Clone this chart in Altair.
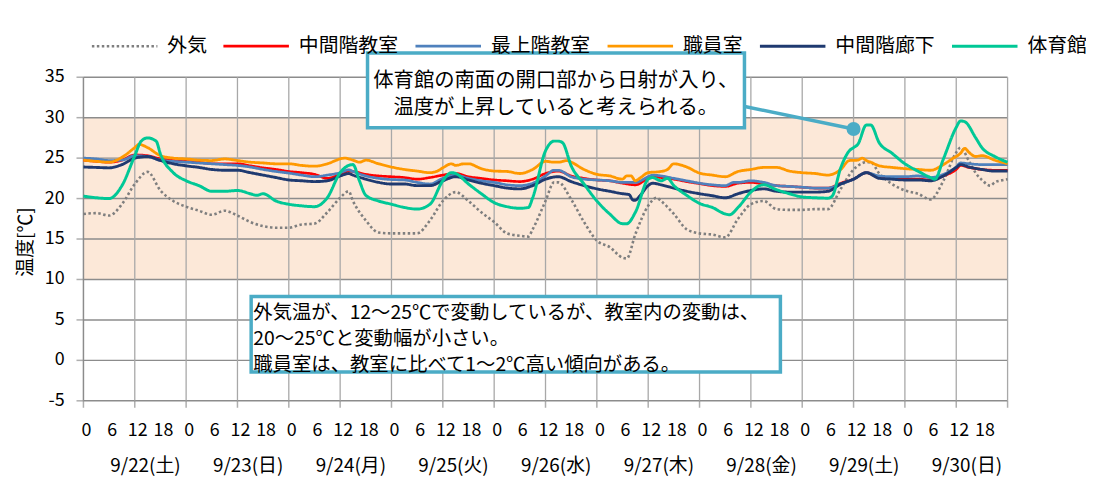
import altair as alt
import pandas as pd

FONT = "Noto Sans CJK JP"

series_names = ["外気", "中間階教室", "最上階教室", "職員室", "中間階廊下", "体育館"]
series_colors = ["#7f7f7f", "#ff0000", "#4f81bd", "#ff9900", "#1f3a70", "#00c896"]
series_dash = [[2.5, 2.5], [1, 0], [1, 0], [1, 0], [1, 0], [1, 0]]
series_width = [2.6, 3, 3, 3, 3, 3]

# hours from 9/22 0:00
out_h = [0, 3, 6, 9, 12, 15, 18, 21, 24, 27, 30, 33, 36, 39, 42, 45, 48, 51, 54, 57, 60, 62, 63, 66, 69, 72,
         75, 78, 81, 84, 87, 90, 93, 96, 99, 102, 104, 105, 108, 110, 111, 114, 117, 120, 123, 126, 127, 129,
         132, 134, 135, 138, 141, 144, 147, 150, 153, 156, 159, 162, 165, 168, 171, 174, 177, 180, 181, 183,
         184, 186, 189, 192, 195, 198, 201, 204, 205, 207, 208.5, 210, 212, 213, 215, 216]
out_t = [18.1, 18.2, 17.9, 19.3, 21.8, 23.3, 21.0, 19.7, 19.0, 18.5, 18.0, 18.5, 17.9, 17.1, 16.6, 16.4, 16.4,
         16.8, 16.9, 18.3, 20.1, 20.9, 19.7, 17.3, 15.8, 15.7,
         15.7, 15.7, 17.3, 19.7, 20.8, 19.7, 18.3, 17.1, 15.7, 15.4, 15.3, 16.2, 19.7, 22.0, 22.0, 19.9, 17.1,
         14.8, 14.0, 12.7, 12.6, 15.6, 19.1, 20.1, 19.7, 18.1, 16.2, 15.7,
         15.55, 15.2, 17.5, 19.3, 19.7, 18.7, 18.6, 18.6, 18.7, 18.7, 21.2, 23.6, 24.05, 24.5, 24.5, 23.1, 21.8,
         21.0, 20.6, 19.9, 22.2, 25.7, 26.3, 24.6, 23.2, 22.3, 21.6, 22.0, 22.3, 22.4]

gym_h = [0, 3, 6, 9, 12, 13.5, 15, 17, 18, 21, 24, 27, 30, 33, 36, 39, 40.5, 42, 45, 48, 51, 54, 57, 60, 62, 63,
         64.5, 66, 69, 72, 75, 78, 81, 84, 86, 87, 90, 93, 96, 99, 102, 104, 105, 108, 110, 111, 112, 114, 117,
         120, 123, 126, 127, 129, 132, 133, 135, 136.5, 138, 141, 144, 147, 150, 151, 153, 156, 158, 159, 162,
         165, 168, 171, 174, 175, 177, 179, 180, 181, 183, 184, 186, 189, 192, 195, 198, 199, 201, 204, 205,
         206, 208.5, 210, 213, 216]
gym_t = [20.3, 20.1, 20.0, 21.6, 25.3, 27.1, 27.5, 27.1, 25.5, 23.2, 22.2, 21.6, 20.9, 20.9, 21.0, 20.6, 20.4,
         20.6, 19.7, 19.3, 19.1, 19.0, 20.1, 23.2, 24.1, 24.2, 22.2, 20.4, 19.7, 19.3, 18.9, 18.7, 19.3, 22.2,
         23.2, 23.1, 21.8, 20.6, 19.5, 19.0, 18.8, 18.9, 20.1, 25.9, 27.1, 27.1, 26.9, 24.05, 21.8, 19.7, 18.1,
         16.9, 16.9, 18.3, 22.4, 22.6, 22.2, 22.5, 21.6, 20.4, 19.4, 18.9, 18.1, 18.0, 18.9, 20.8, 21.6, 21.7,
         21.1, 20.6, 20.2, 20.1, 20.05, 20.3, 23.8, 25.9, 26.3, 26.7, 29.1, 29.1, 26.9, 25.6, 24.3, 23.4, 22.6,
         22.4, 24.9, 28.8, 29.6, 29.5, 27.55, 26.3, 25.2, 24.5]

staff_h = [0, 3, 6, 9, 12, 13, 15, 18, 21, 24, 27, 30, 33, 36, 39, 42, 45, 48, 51, 54, 57, 60, 61, 63, 64.5, 66,
           69, 72, 75, 78, 81, 82.5, 84, 86, 87, 89, 90, 93, 96, 99, 102, 105, 108, 110, 111, 113, 114, 117,
           120, 123, 126, 127, 128, 129, 130, 132, 135, 136.5, 138, 141, 144, 147, 150, 153, 156, 159, 162,
           165, 168, 171, 174, 177, 179, 181, 182, 183, 184, 186, 189, 192, 195, 198, 201, 203, 205, 206, 207,
           208.5, 210, 213, 216]
staff_t = [24.75, 24.6, 24.5, 25.1, 26.3, 26.7, 26.3, 25.3, 25.0, 24.9, 24.75, 24.7, 24.9, 24.7, 24.5, 24.4,
           24.3, 24.3, 24.1, 24.0, 24.3, 24.9, 25.0, 24.75, 24.5, 24.75, 24.3, 23.9, 23.6, 23.4, 23.2, 23.35,
           23.8, 24.3, 24.1, 24.3, 24.3, 23.7, 23.4, 23.35, 23.1, 23.6, 24.6, 24.5, 24.5, 24.7, 24.5, 23.6, 23.0,
           22.8, 22.4, 22.8, 22.8, 22.2, 22.5, 23.2, 23.35, 23.6, 24.3, 23.9, 23.15, 22.9, 22.7, 23.35, 23.6,
           23.85, 23.85, 23.4, 23.2, 23.1, 22.9, 23.6, 24.7, 24.75, 25.0, 24.7, 24.5, 24.05, 23.85, 23.7, 23.6,
           23.5, 24.2, 24.9, 25.6, 26.2, 25.7, 25.2, 25.3, 24.75, 24.3]

mid_h = [0, 3, 6, 9, 12, 15, 18, 21, 24, 27, 30, 33, 36, 39, 42, 45, 48, 51, 54, 57, 60, 62, 63, 66, 69, 72, 75,
         78, 81, 84, 87, 90, 93, 96, 99, 102, 105, 108, 110, 111, 114, 117, 120, 123, 126, 129, 132, 133, 135,
         138, 141, 144, 147, 150, 153, 156, 159, 162, 165, 168, 171, 174, 177, 180, 183, 186, 189, 192, 195,
         198, 201, 204, 205, 207, 210, 213, 216]
mid_t = [24.75, 24.6, 24.5, 24.75, 25.4, 25.3, 24.9, 24.7, 24.6, 24.5, 24.3, 24.3, 24.3, 24.05, 23.8, 23.6,
         23.35, 23.2, 23.0, 22.5, 23.0, 23.4, 23.35, 23.0, 22.8, 22.7, 22.6, 22.4, 22.6, 22.9, 23.1, 22.7, 22.5,
         22.3, 22.2, 22.1, 22.4, 23.1, 23.35, 23.4, 22.8, 22.5, 22.3, 22.2, 21.9, 21.7, 22.5, 22.7, 22.6, 22.4,
         22.1, 21.85, 21.6, 21.5, 21.9, 22.0, 21.8, 21.6, 21.5, 21.4, 21.3, 21.3, 21.9, 22.4, 23.2, 22.6, 22.5,
         22.4, 22.4, 22.3, 22.8, 23.6, 24.1, 23.85, 23.6, 23.5, 23.5]

top_h = [0, 3, 6, 9, 12, 15, 18, 21, 24, 27, 30, 33, 36, 39, 42, 45, 48, 51, 54, 57, 60, 62, 63, 66, 69, 72, 75,
         78, 81, 84, 87, 90, 93, 96, 99, 102, 105, 108, 110, 111, 114, 117, 120, 123, 126, 129, 132, 133, 135,
         138, 141, 144, 147, 150, 152, 153, 156, 159, 162, 165, 168, 171, 174, 177, 180, 183, 186, 189, 192,
         195, 198, 201, 204, 205, 207, 210, 213, 216]
top_t = [25.0, 24.9, 24.7, 24.75, 25.3, 25.2, 24.75, 24.6, 24.5, 24.4, 24.3, 24.2, 24.1, 23.9, 23.6, 23.35,
         23.15, 22.9, 22.7, 22.9, 23.2, 23.55, 23.35, 22.8, 22.5, 22.35, 22.3, 22.0, 21.8, 22.5, 22.9, 22.5,
         22.2, 22.0, 21.7, 21.6, 21.9, 22.8, 23.5, 23.5, 22.7, 22.4, 22.3, 22.2, 22.0, 22.0, 22.7, 22.9, 22.8,
         22.5, 22.2, 21.9, 21.7, 21.6, 22.0, 22.0, 22.2, 22.0, 21.6, 21.5, 21.4, 21.3, 21.3, 21.8, 22.4, 23.2,
         22.8, 22.7, 22.7, 22.8, 22.6, 23.0, 23.9, 24.4, 24.3, 24.2, 24.2, 24.2]

hall_h = [0, 3, 6, 9, 12, 15, 18, 21, 24, 27, 30, 33, 36, 39, 42, 45, 48, 51, 54, 57, 60, 62, 63, 66, 69, 72,
          75, 78, 81, 84, 87, 90, 93, 96, 99, 102, 105, 108, 111, 114, 117, 120, 123, 126, 127.5, 128.5, 129,
          130, 132, 133, 135, 138, 141, 144, 147, 150, 153, 156, 159, 162, 165, 168, 171, 174, 177, 180, 183,
          186, 189, 192, 195, 198, 201, 204, 205, 207, 210, 213, 216]
hall_t = [23.9, 23.85, 23.8, 24.2, 25.0, 25.2, 24.7, 24.3, 24.05, 23.85, 23.6, 23.5, 23.5, 23.2, 22.9, 22.6,
          22.3, 22.2, 22.1, 22.2, 22.8, 23.1, 22.9, 22.4, 22.0, 21.8, 21.8, 21.6, 21.6, 22.2, 22.7, 22.3, 21.9,
          21.6, 21.3, 21.2, 21.6, 22.4, 22.7, 22.1, 21.6, 21.2, 20.9, 20.6, 20.5, 19.8, 19.8, 20.3, 21.6, 21.9,
          21.7, 21.3, 20.9, 20.6, 20.35, 20.1, 20.6, 21.0, 21.2, 20.9, 20.8, 20.8, 20.8, 20.9, 21.8, 22.4, 23.2,
          22.5, 22.4, 22.3, 22.3, 22.2, 22.8, 23.85, 24.2, 23.9, 23.6, 23.4, 23.4]

series_hours = [out_h, mid_h, top_h, staff_h, hall_h, gym_h]
series_temps = [out_t, mid_t, top_t, staff_t, hall_t, gym_t]

day_labels = ["9/22(土)", "9/23(日)", "9/24(月)", "9/25(火)", "9/26(水)",
              "9/27(木)", "9/28(金)", "9/29(土)", "9/30(日)"]
y_ticks = [-5, 0, 5, 10, 15, 20, 25, 30, 35]
x_label_hours = list(range(0, 211, 6))
x_tick_hours = list(range(0, 217, 12))
x_range = [0, 216]
y_range = [-5, 35]
comfort_band = [10, 30]
y_title = "温度[℃]"

note1_lines = ["体育館の南面の開口部から日射が入り、", "温度が上昇していると考えられる。"]
note2_lines = ["外気温が、12～25℃で変動しているが、教室内の変動は、",
               "20～25℃と変動幅が小さい。",
               "職員室は、教室に比べて1～2℃高い傾向がある。"]

rows = []
for i, (name, hs, ts) in enumerate(zip(series_names, series_hours, series_temps)):
    for h, t in zip(hs, ts):
        rows.append({"series": name, "hour": h, "temp": t, "k": i})
df = pd.DataFrame(rows)

W, H = 931, 326
PXH = W / (x_range[1] - x_range[0])   # pixels per hour
PXT = H / (y_range[1] - y_range[0])   # pixels per degree
xs = alt.Scale(domain=x_range, nice=False, zero=False)
ys = alt.Scale(domain=y_range, nice=False, zero=False)
ACC = "#4bacc6"
GRID_H = "#8c8c8c"
GRID_V = "#a8a8a8"
TICK = 7

def X(field):
    return alt.X(field, scale=xs, axis=None)

def Y(field):
    return alt.Y(field, scale=ys, axis=None)

legend = alt.Legend(
    title=None, orient="none", legendX=7, legendY=-66, direction="horizontal", columns=6,
    symbolType="stroke", symbolSize=4356, symbolStrokeWidth=3,
    labelFont=FONT, labelFontSize=20, labelColor="#000", labelOffset=8.5,
    columnPadding=10.5, labelLimit=300,
)

band = alt.Chart(pd.DataFrame({"lo": [comfort_band[0]], "hi": [comfort_band[1]]})).mark_rect(
    color="#fce8d8").encode(y=Y("lo:Q"), y2="hi:Q")

# grid lines: one positional channel each, spanning the whole plot
hgrid = alt.Chart(pd.DataFrame({"t": y_ticks})).mark_rule(color=GRID_H, strokeWidth=1.5).encode(
    y=Y("t:Q"))
vgrid = alt.Chart(pd.DataFrame({"h": x_tick_hours[1:]})).mark_rule(color=GRID_V, strokeWidth=1.3).encode(
    x=X("h:Q"))
left_axis = alt.Chart(pd.DataFrame({"h": [x_range[0]]})).mark_rule(color=GRID_H, strokeWidth=1.5).encode(
    x=X("h:Q"))
xticks = alt.Chart(pd.DataFrame({"h": x_tick_hours})).mark_tick(
    color=GRID_H, thickness=1.5, size=TICK, orient="vertical").encode(
    x=X("h:Q"), y=alt.value(H + TICK / 2))
yticks = alt.Chart(pd.DataFrame({"t": y_ticks})).mark_tick(
    color=GRID_H, thickness=1.5, size=TICK, orient="horizontal").encode(
    y=Y("t:Q"), x=alt.value(-TICK / 2))

# axis labels (positions derived from tick values through the scales)
ylab = alt.Chart(pd.DataFrame({"v": y_ticks, "x": [x_range[0] - (TICK + 12) / PXH] * len(y_ticks),
                               "lab": [str(v) for v in y_ticks]})).mark_text(
    font=FONT, fontSize=18, color="#000", align="right", baseline="middle").encode(
    x=X("x:Q"), y=Y("v:Q"), text="lab:N")
xlab = alt.Chart(pd.DataFrame({"h": [h + 3 / PXH for h in x_label_hours],
                               "y": [y_range[0] - (TICK + 14) / PXT] * len(x_label_hours),
                               "lab": [str(h % 24) for h in x_label_hours]})).mark_text(
    font=FONT, fontSize=18, color="#000", align="center", baseline="top").encode(
    x=X("h:Q"), y=Y("y:Q"), text="lab:N")
dates = alt.Chart(pd.DataFrame({"label": day_labels,
                                "d": [i * 24 + 14.5 for i in range(len(day_labels))],
                                "y": [y_range[0] - 66 / PXT] * len(day_labels)})).mark_text(
    font=FONT, fontSize=19, color="#000", align="center", baseline="middle").encode(
    x=X("d:Q"), y=Y("y:Q"), text="label:N")
ytitle = alt.Chart(pd.DataFrame({"x": [x_range[0] - 58 / PXH], "y": [y_range[1] - 166 / PXT],
                                 "lab": [y_title]})).mark_text(
    font=FONT, fontSize=19, color="#000", align="center", baseline="middle", angle=270).encode(
    x=X("x:Q"), y=Y("y:Q"), text="lab:N")

lines = alt.Chart(df).mark_line(interpolate="monotone").encode(
    x=X("hour:Q"),
    y=Y("temp:Q"),
    color=alt.Color("series:N", scale=alt.Scale(domain=series_names, range=series_colors), legend=legend),
    strokeDash=alt.StrokeDash("series:N", scale=alt.Scale(domain=series_names, range=series_dash),
                              legend=legend),
    strokeWidth=alt.StrokeWidth("series:N", scale=alt.Scale(domain=series_names, range=series_width),
                                legend=None),
    detail="series:N",
)

# annotations (in data units: hours, degrees)
box1 = pd.DataFrame({"x": [66.4], "x2": [154.5], "y": [38.0], "y2": [28.75]})
conn1 = pd.DataFrame({"x": [154.0], "x2": [180.0], "y": [31.45], "y2": [28.6]})
dot1 = pd.DataFrame({"x": [180.0], "y": [28.6]})
txt1 = pd.DataFrame({"x": [110.4, 110.4], "y": [34.5, 31.25], "text": note1_lines})

box2 = pd.DataFrame({"x": [39.2], "x2": [162.9], "y": [7.9], "y2": [-1.45]})
txt2 = pd.DataFrame({"x": [39.7] * 3, "y": [5.8, 2.6, -0.6], "text": note2_lines})

def rect_layer(d):
    return alt.Chart(d).mark_rect(fill="white", stroke=ACC, strokeWidth=3.5).encode(
        x=X("x:Q"), x2="x2:Q", y=Y("y:Q"), y2="y2:Q")

conn_layer = alt.Chart(conn1).mark_rule(color=ACC, strokeWidth=3.5).encode(
    x=X("x:Q"), x2="x2:Q", y=Y("y:Q"), y2="y2:Q")
dot_layer = alt.Chart(dot1).mark_circle(color=ACC, opacity=1, size=200).encode(
    x=X("x:Q"), y=Y("y:Q"))
txt1_layer = alt.Chart(txt1).mark_text(font=FONT, fontSize=20.5, color="#000", align="center",
                                       baseline="middle").encode(
    x=X("x:Q"), y=Y("y:Q"), text="text:N")
txt2_layer = alt.Chart(txt2).mark_text(font=FONT, fontSize=19.5, color="#000", align="left",
                                       baseline="middle").encode(
    x=X("x:Q"), y=Y("y:Q"), text="text:N")

chart = alt.layer(
    band, hgrid, vgrid, left_axis, xticks, yticks, ylab, xlab, dates, ytitle,
    lines,
    conn_layer, rect_layer(box1), dot_layer, txt1_layer,
    rect_layer(box2), txt2_layer,
).properties(
    width=W, height=H,
    autosize=alt.AutoSizeParams(type="none"),
    padding={"left": 76, "top": 68, "right": 79, "bottom": 74},
    background="white",
).configure_view(stroke=None)

chart.save("out.html", embed_options={"renderer": "svg", "actions": False})
